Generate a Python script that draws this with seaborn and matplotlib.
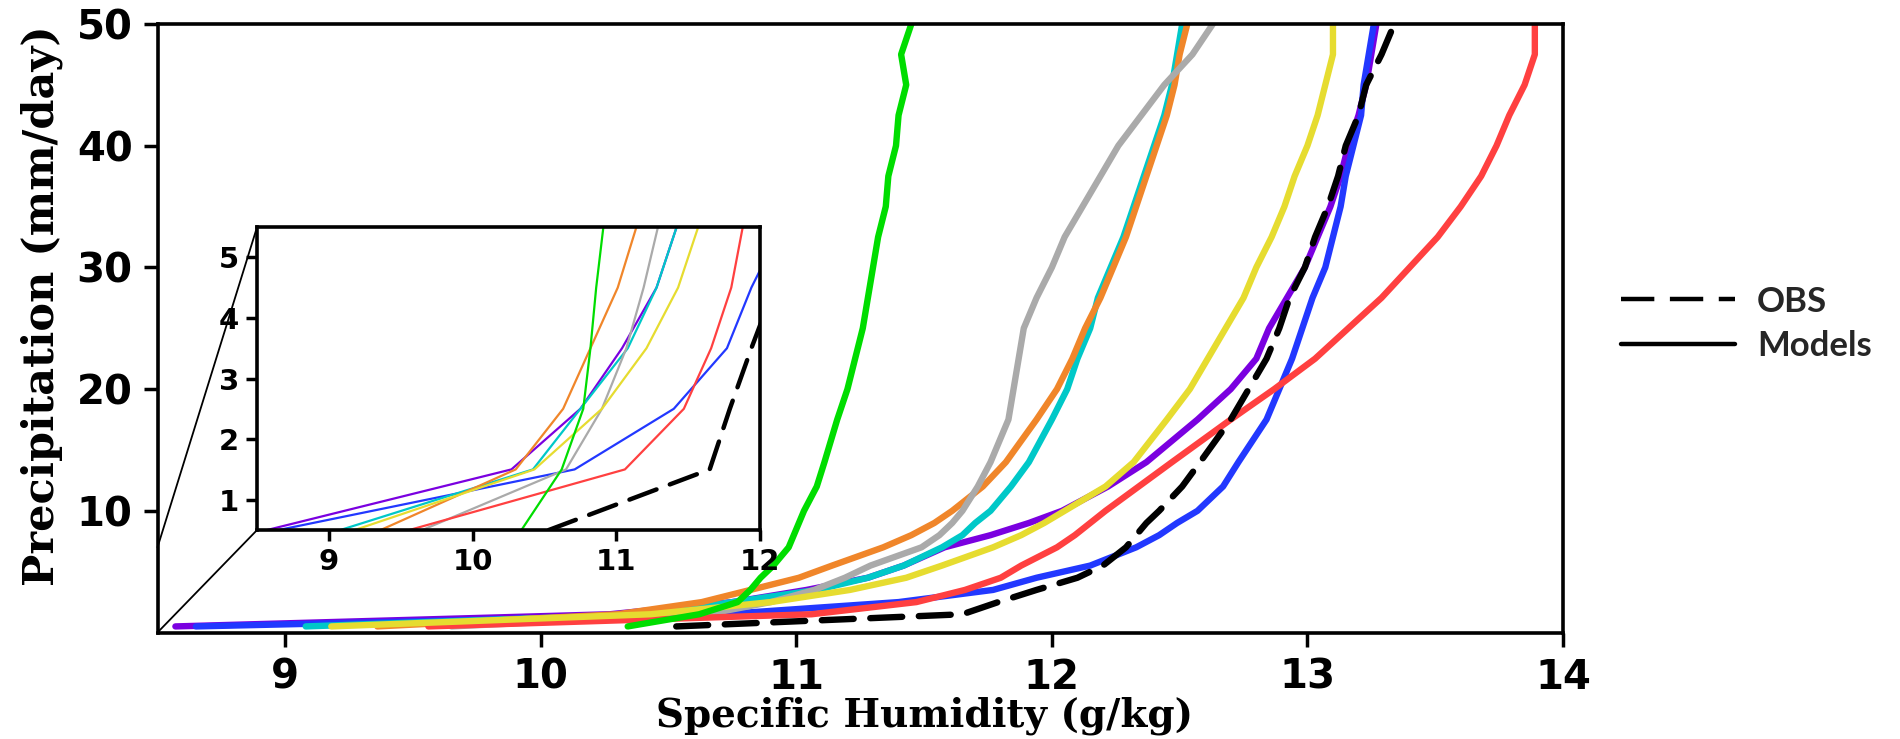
import pandas as pd
import seaborn as sns
import matplotlib.pyplot as plt
from matplotlib.lines import Line2D
from matplotlib.patches import ConnectionPatch

# precipitation levels (mm/day)
precip = [0.5, 1.5, 2.5, 3.5, 4.5, 5.5, 7, 8, 9, 10, 12, 14, 17.5, 20,
          22.5, 25, 27.5, 30, 32.5, 35, 37.5, 40, 42.5, 45, 47.5, 50]

# specific humidity (g/kg) of each curve at those levels
purple = [8.57, 10.27, 10.75, 11.04, 11.28, 11.42, 11.58, 11.76, 11.91, 12.04, 12.22, 12.37, 12.57,
          12.70, 12.80, 12.85, 12.92, 12.99, 13.04, 13.09, 13.13, 13.16, 13.20, 13.23, 13.25, 13.27]
blue = [8.65, 10.71, 11.40, 11.77, 11.94, 12.15, 12.33, 12.42, 12.49, 12.57, 12.67, 12.73, 12.84,
        12.89, 12.94, 12.98, 13.02, 13.07, 13.10, 13.13, 13.15, 13.18, 13.21, 13.22, 13.24, 13.26]
cyan = [9.08, 10.42, 10.75, 11.08, 11.28, 11.42, 11.57, 11.65, 11.70, 11.76, 11.84, 11.91, 12.00,
        12.06, 12.10, 12.15, 12.18, 12.23, 12.28, 12.32, 12.36, 12.40, 12.44, 12.47, 12.49, 12.51]
orange = [9.36, 10.30, 10.63, 10.82, 11.01, 11.14, 11.34, 11.45, 11.54, 11.61, 11.73, 11.82, 11.94,
          12.02, 12.08, 12.13, 12.19, 12.24, 12.29, 12.33, 12.37, 12.41, 12.45, 12.48, 12.50, 12.53]
gray = [9.65, 10.65, 10.90, 11.07, 11.19, 11.29, 11.49, 11.56, 11.61, 11.65, 11.71, 11.76, 11.83,
        11.85, 11.87, 11.89, 11.94, 12.00, 12.05, 12.12, 12.19, 12.26, 12.35, 12.44, 12.55, 12.63]
red = [9.56, 11.06, 11.47, 11.66, 11.80, 11.88, 12.02, 12.09, 12.15, 12.21, 12.34, 12.47, 12.70,
       12.87, 13.03, 13.16, 13.29, 13.40, 13.51, 13.60, 13.68, 13.74, 13.79, 13.85, 13.89, 13.89]
yellow = [9.18, 10.43, 10.90, 11.21, 11.43, 11.57, 11.77, 11.88, 11.97, 12.05, 12.21, 12.32, 12.45,
          12.54, 12.61, 12.68, 12.75, 12.80, 12.86, 12.91, 12.95, 13.00, 13.04, 13.07, 13.10, 13.10]
green = [10.34, 10.62, 10.77, 10.82, 10.86, 10.91, 10.97, 10.99, 11.01, 11.03, 11.08, 11.11, 11.16,
         11.20, 11.23, 11.26, 11.28, 11.30, 11.32, 11.35, 11.36, 11.39, 11.40, 11.43, 11.41, 11.45]
obs = [10.53, 11.65, 11.79, 11.94, 12.10, 12.20, 12.29, 12.33, 12.37, 12.42, 12.51, 12.58, 12.70,
       12.77, 12.84, 12.89, 12.93, 12.99, 13.03, 13.08, 13.12, 13.15, 13.20, 13.23, 13.29, 13.34]

models = {"m1": purple, "m2": blue, "m3": cyan, "m4": orange,
          "m5": gray, "m6": red, "m7": yellow, "m8": green}
colors = {"m1": "#7a00e0", "m2": "#2238ff", "m3": "#00c8c8", "m4": "#f0862a",
          "m5": "#aaaaaa", "m6": "#ff4040", "m7": "#e6dc30", "m8": "#00dd00"}

rows = []
for name, vals in models.items():
    for p, q in zip(precip, vals):
        rows.append({"model": name, "q": q, "p": p})
df = pd.DataFrame(rows)

sns.set_style("ticks")
plt.rcParams['font.family'] = ['DejaVu Sans']
plt.rcParams['font.weight'] = 'bold'

fig = plt.figure(figsize=(19, 7.39), dpi=100)
ax = fig.add_axes([0.0829, 0.1441, 0.7397, 0.8234])
axin = fig.add_axes([0.1353, 0.2828, 0.2647, 0.41])

for a, lw, obs_lw, dash in [(ax, 4.6, 4.6, (5, 2.6)), (axin, 1.6, 3.2, (6.5, 3.2))]:
    sns.lineplot(data=df, x="q", y="p", hue="model", hue_order=list(models),
                 palette=colors, sort=False, estimator=None, lw=lw, ax=a, legend=False,
                 solid_joinstyle="round")
    sns.lineplot(x=obs, y=precip, sort=False, estimator=None, color="black", lw=obs_lw,
                 linestyle=(0, dash), dash_capstyle="round", dash_joinstyle="round", ax=a)
    for s in a.spines.values():
        s.set_visible(True)
        s.set_linewidth(2.6)
        s.set_color("black")
    a.set_xlabel("")
    a.set_ylabel("")

ax.set_xlim(8.5, 14)
ax.set_ylim(0, 50)
ax.set_xticks([9, 10, 11, 12, 13, 14])
ax.set_yticks([10, 20, 30, 40, 50])
ax.tick_params(width=2.5, length=10, labelsize=29, pad=8, color="black", labelcolor="black")

axin.set_xlim(8.5, 12)
axin.set_ylim(0.5, 5.5)
axin.set_xticks([9, 10, 11, 12])
axin.set_yticks([1, 2, 3, 4, 5])
axin.tick_params(width=2.5, length=8, labelsize=21, pad=5, color="black", labelcolor="black")

ax.set_ylabel("Precipitation (mm/day)", family="DejaVu Serif", weight="bold", fontsize=31,
              color="black", va="center")
ax.yaxis.set_label_coords(-0.0822, 0.537)
ax.set_xlabel("Specific Humidity (g/kg)", family="DejaVu Serif", weight="bold", fontsize=28,
              color="black", va="center")
ax.xaxis.set_label_coords(0.546, -0.137)

# zoom lines from inset to main axis
for xy_in, xy_main in [((0, 1), (8.5, 7.0)), ((0, 0), (8.5, 0.0))]:
    con = ConnectionPatch(xyA=xy_in, coordsA=axin.transAxes, xyB=xy_main, coordsB=ax.transData,
                          color="black", lw=1.3)
    fig.add_artist(con)

handles = [Line2D([], [], color="black", lw=3.2, linestyle=(0, (7.5, 3.5))),
           Line2D([], [], color="black", lw=3.2)]
fig.legend(handles=handles, labels=["OBS", "Models"], loc="center left",
           bbox_to_anchor=(0.853, 0.562), frameon=False, handlelength=3.3,
           handletextpad=0.63, labelspacing=0.35, borderpad=0, borderaxespad=0,
           prop={"family": ["Lato", "DejaVu Sans"], "weight": "bold", "size": 25},
           labelcolor="#262626")

fig.savefig("out.png", dpi=100)
